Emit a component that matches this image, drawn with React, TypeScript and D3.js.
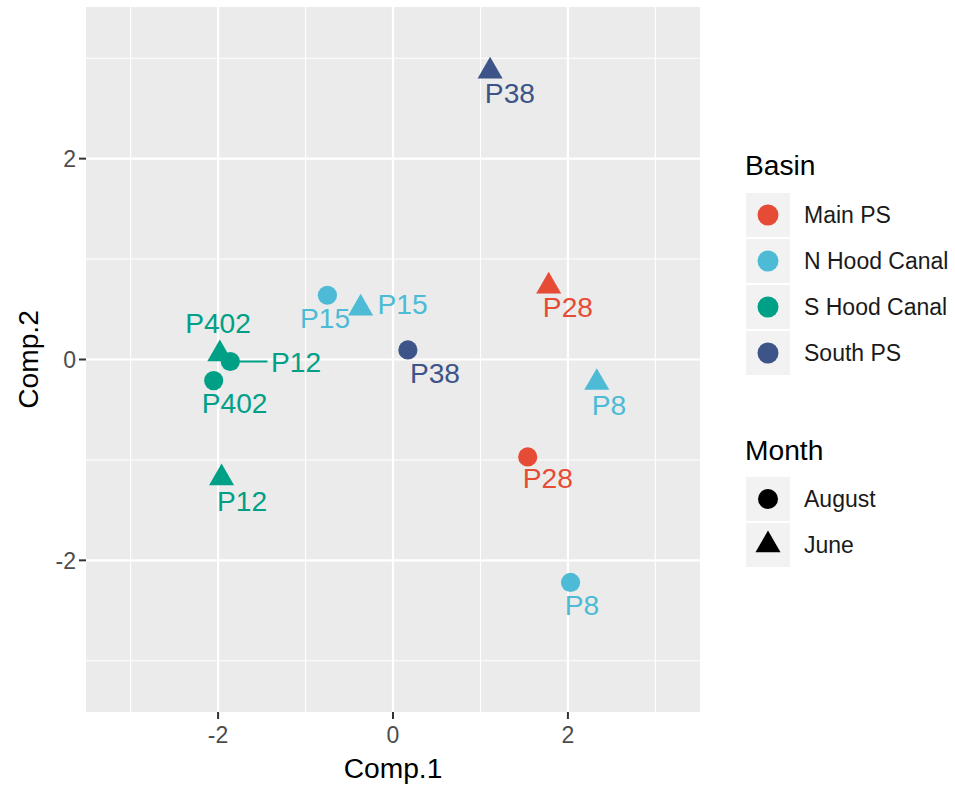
import React from "react";
import * as d3 from "d3";

// Sampling stations and their scores on the first two components
const sites = ["P8", "P8", "P12", "P12", "P15", "P15", "P28", "P28", "P38", "P38", "P402", "P402"];
const months = ["August", "June", "August", "June", "August", "June", "August", "June", "August", "June", "August", "June"];
const basins = [
  "N Hood Canal", "N Hood Canal", "S Hood Canal", "S Hood Canal", "N Hood Canal", "N Hood Canal",
  "Main PS", "Main PS", "South PS", "South PS", "S Hood Canal", "S Hood Canal",
];
const comp1 = [2.03, 2.33, -1.86, -1.96, -0.75, -0.37, 1.54, 1.78, 0.17, 1.11, -2.05, -1.98];
const comp2 = [-2.22, -0.23, -0.02, -1.18, 0.64, 0.51, -0.97, 0.73, 0.095, 2.87, -0.21, 0.055];

// Repelled text anchors (data units) for each station label
const labelComp1 = [2.16, 2.469, -1.109, -1.726, -0.777, 0.109, 1.771, 2.0, 0.48, 1.337, -1.811, -2.0];
const labelComp2 = [-2.448, -0.454, -0.025, -1.411, 0.414, 0.553, -1.181, 0.523, -0.135, 2.657, -0.434, 0.364];

const basinLevels = ["Main PS", "N Hood Canal", "S Hood Canal", "South PS"];
const basinColors = ["#E64B35", "#4DBBD5", "#00A087", "#3C5488"];
const monthLevels = ["August", "June"];

const majorTicks = [-2, 0, 2];
const minorTicks = [-3, -1, 1, 3];
const axisLimits = [-3.51, 3.51];

const FONT = "'Liberation Sans', Arial, Helvetica, sans-serif";
const W = 955;
const H = 786;
const panel = { left: 86, right: 700, top: 7, bottom: 712 };

const LABEL_SIZE = 28.2;
const TEXT_SIZE = 23;
const POINT_R = 9.6;
const TRI_R = 9.3;

function trianglePath(cx: number, cy: number, r: number) {
  const t0 = Math.sqrt((4 * Math.PI) / (3 * Math.sqrt(3)));
  const up = t0 * r;
  const half = ((t0 * Math.sqrt(3)) / 2) * r;
  const down = (t0 / 2) * r;
  return `M${cx},${cy - up}L${cx + half},${cy + down}L${cx - half},${cy + down}Z`;
}

function Marker({ shape, x, y, fill, r }: { shape: string; x: number; y: number; fill: string; r?: number }) {
  if (shape === "June") return <path d={trianglePath(x, y, r ?? TRI_R)} fill={fill} />;
  return <circle cx={x} cy={y} r={r ?? POINT_R} fill={fill} />;
}

export default function App() {
  const x = d3.scaleLinear().domain(axisLimits).range([panel.left, panel.right]);
  const y = d3.scaleLinear().domain(axisLimits).range([panel.bottom, panel.top]);
  const color = d3.scaleOrdinal<string, string>().domain(basinLevels).range(basinColors);

  // approximate text box of a label, used to clip the leader segment
  const labelBox = (i: number) => {
    const w = sites[i].length * 0.58 * LABEL_SIZE;
    const h = 0.72 * LABEL_SIZE;
    const cx = x(labelComp1[i]);
    const cy = y(labelComp2[i]);
    return { x0: cx - w / 2 - 4, x1: cx + w / 2 + 4, y0: cy - h / 2 - 4, y1: cy + h / 2 + 4 };
  };

  const segments = sites.map((_, i) => {
    const px = x(comp1[i]);
    const py = y(comp2[i]);
    const b = labelBox(i);
    const qx = Math.max(b.x0, Math.min(px, b.x1));
    const qy = Math.max(b.y0, Math.min(py, b.y1));
    const len = Math.hypot(qx - px, qy - py);
    return len > 28 ? { px, py, qx, qy } : null;
  });

  const legendX = 746;
  const keySize = 44;
  const basinKeyTop = 193;
  const monthKeyTop = 477;
  const keyStep = 46;

  return (
    <svg width={W} height={H} style={{ position: "absolute", left: 0, top: 0, background: "#fff" }} fontFamily={FONT}>
      {/* panel */}
      <rect x={panel.left} y={panel.top} width={panel.right - panel.left} height={panel.bottom - panel.top} fill="#EBEBEB" />
      {minorTicks.map((t) => (
        <g key={`mn${t}`}>
          <line x1={x(t)} x2={x(t)} y1={panel.top} y2={panel.bottom} stroke="#fff" strokeWidth={1.1} />
          <line x1={panel.left} x2={panel.right} y1={y(t)} y2={y(t)} stroke="#fff" strokeWidth={1.1} />
        </g>
      ))}
      {majorTicks.map((t) => (
        <g key={`mj${t}`}>
          <line x1={x(t)} x2={x(t)} y1={panel.top} y2={panel.bottom} stroke="#fff" strokeWidth={2.2} />
          <line x1={panel.left} x2={panel.right} y1={y(t)} y2={y(t)} stroke="#fff" strokeWidth={2.2} />
        </g>
      ))}

      {/* points */}
      {sites.map((_, i) => (
        <Marker key={`p${i}`} shape={months[i]} x={x(comp1[i])} y={y(comp2[i])} fill={color(basins[i])} />
      ))}

      {/* leader segments and labels */}
      {segments.map((s, i) =>
        s ? <line key={`s${i}`} x1={s.px} y1={s.py} x2={s.qx} y2={s.qy} stroke={color(basins[i])} strokeWidth={2} /> : null
      )}
      {sites.map((name, i) => (
        <text
          key={`l${i}`}
          x={x(labelComp1[i])}
          y={y(labelComp2[i])}
          dy="0.36em"
          textAnchor="middle"
          fontSize={LABEL_SIZE}
          fill={color(basins[i])}
        >
          {name}
        </text>
      ))}

      {/* axes */}
      {majorTicks.map((t) => (
        <g key={`ax${t}`}>
          <line x1={x(t)} x2={x(t)} y1={panel.bottom} y2={panel.bottom + 7} stroke="#333" strokeWidth={2} />
          <text x={x(t)} y={743} textAnchor="middle" fontSize={TEXT_SIZE} fill="#4D4D4D">
            {t}
          </text>
          <line x1={panel.left - 7} x2={panel.left} y1={y(t)} y2={y(t)} stroke="#333" strokeWidth={2} />
          <text x={76} y={y(t)} dy="0.36em" textAnchor="end" fontSize={TEXT_SIZE} fill="#4D4D4D">
            {t}
          </text>
        </g>
      ))}
      <text x={(panel.left + panel.right) / 2} y={778} textAnchor="middle" fontSize={LABEL_SIZE} fill="#000">
        Comp.1
      </text>
      <text
        transform={`translate(38,${(panel.top + panel.bottom) / 2}) rotate(-90)`}
        textAnchor="middle"
        fontSize={LABEL_SIZE}
        fill="#000"
      >
        Comp.2
      </text>

      {/* legend: Basin */}
      <text x={legendX - 1} y={175} fontSize={LABEL_SIZE} fill="#000">
        Basin
      </text>
      {basinLevels.map((b, i) => {
        const top = basinKeyTop + i * keyStep;
        const cy = top + keySize / 2;
        return (
          <g key={`lb${b}`}>
            <rect x={legendX} y={top} width={keySize} height={keySize} fill="#F2F2F2" />
            <circle cx={legendX + keySize / 2} cy={cy} r={10.5} fill={color(b)} />
            <text x={legendX + 58} y={cy} dy="0.36em" fontSize={TEXT_SIZE} fill="#1a1a1a">
              {b}
            </text>
          </g>
        );
      })}

      {/* legend: Month */}
      <text x={legendX - 1} y={460} fontSize={LABEL_SIZE} fill="#000">
        Month
      </text>
      {monthLevels.map((m, i) => {
        const top = monthKeyTop + i * keyStep;
        const cy = top + keySize / 2;
        return (
          <g key={`lm${m}`}>
            <rect x={legendX} y={top} width={keySize} height={keySize} fill="#F2F2F2" />
            <Marker shape={m} x={legendX + keySize / 2} y={cy} fill="#000" r={m === "June" ? TRI_R : 10} />
            <text x={legendX + 58} y={cy} dy="0.36em" fontSize={TEXT_SIZE} fill="#1a1a1a">
              {m}
            </text>
          </g>
        );
      })}
    </svg>
  );
}
